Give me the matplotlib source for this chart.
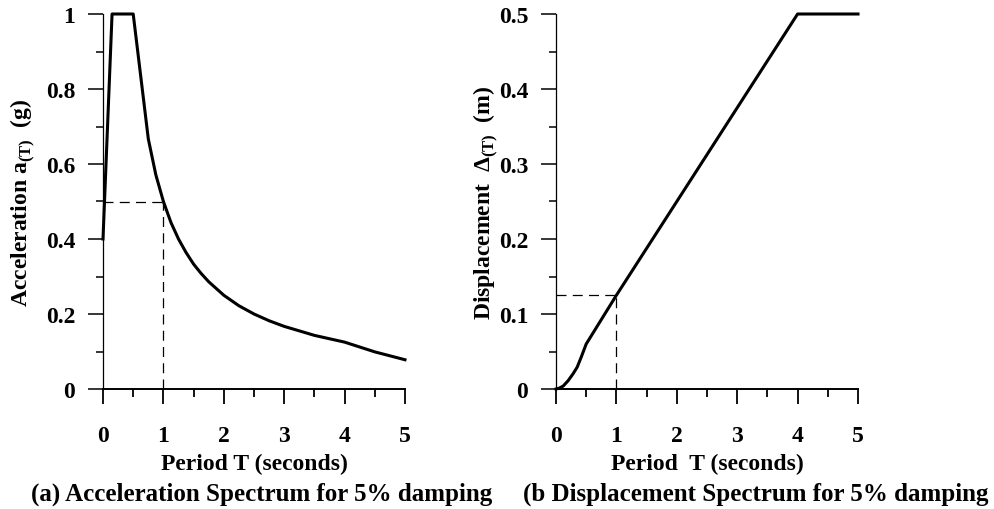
import matplotlib
matplotlib.use('Agg')
import matplotlib.pyplot as plt
from matplotlib.ticker import MultipleLocator

plt.rcParams['font.family'] = 'Liberation Serif'
plt.rcParams['font.weight'] = 'bold'
plt.rcParams['mathtext.fontset'] = 'custom'
plt.rcParams['mathtext.rm'] = 'Liberation Serif'

# acceleration spectrum (g)
acc_T = [0, 0.15, 0.5, 0.75, 0.875, 1.0, 1.125, 1.25, 1.375, 1.5, 1.625, 1.75, 2.0,
         2.25, 2.5, 2.75, 3.0, 3.5, 4.0, 4.5, 5.0]
acc_a = [0.4, 1.0, 1.0, 0.667, 0.571, 0.5, 0.444, 0.4, 0.364, 0.333, 0.308, 0.286, 0.25,
         0.222, 0.2, 0.182, 0.167, 0.143, 0.125, 0.099, 0.078]

# displacement spectrum (m)
disp_T = [0, 0.05, 0.12, 0.2, 0.28, 0.35, 0.42, 0.5, 0.6, 1.0, 2.0, 3.0, 4.0, 5.0]
disp_d = [0, 0.001, 0.004, 0.011, 0.02, 0.029, 0.043, 0.06, 0.073, 0.125, 0.25, 0.375, 0.5, 0.5]

# design point
acc_ref = (1.0, 0.5)
disp_ref = (1.0, 0.125)

fig = plt.figure(figsize=(9.94, 5.10), dpi=100)
ax1 = fig.add_axes([103/994, 120/510, 302/994, 375/510])
ax2 = fig.add_axes([556/994, 120/510, 302/994, 375/510])


def style(ax, ymax, ymajor):
    ax.set_xlim(0, 5)
    ax.set_ylim(0, ymax)
    for s in ['top', 'right']:
        ax.spines[s].set_visible(False)
    ax.spines['left'].set_linewidth(0.9)
    ax.spines['bottom'].set_linewidth(1.4)
    ax.xaxis.set_major_locator(MultipleLocator(1))
    ax.xaxis.set_minor_locator(MultipleLocator(0.5))
    ax.yaxis.set_major_locator(MultipleLocator(ymajor))
    ax.yaxis.set_minor_locator(MultipleLocator(ymajor / 2))
    ax.tick_params(axis='x', which='major', direction='out', length=11, width=1.3,
                   pad=15, labelsize=17)
    ax.tick_params(axis='x', which='minor', direction='out', length=6, width=1.3)
    ax.tick_params(axis='y', which='major', direction='out', length=11, width=1.1,
                   pad=9, labelsize=17)
    ax.tick_params(axis='y', which='minor', direction='out', length=5, width=1.1)
    ax.xaxis.set_label_coords(0.5, -0.17)


style(ax1, 1.0, 0.2)
ax1.set_yticks([0, 0.2, 0.4, 0.6, 0.8, 1.0])
ax1.set_yticklabels(['0', '0.2', '0.4', '0.6', '0.8', '1'])
ax1.plot(acc_T, acc_a, color='black', lw=2.2, clip_on=False, solid_joinstyle='round')
ax1.plot([0, acc_ref[0]], [acc_ref[1], acc_ref[1]], color='black', lw=0.9, dashes=(8, 5))
ax1.plot([acc_ref[0], acc_ref[0]], [0, acc_ref[1]], color='black', lw=0.9, dashes=(8, 5))
ax1.set_xlabel('Period T (seconds)', fontsize=17, fontweight='bold')
ax1.set_ylabel(r'Acceleration a$_{(\mathrm{T})}$  (g)', fontsize=17, fontweight='bold')
ax1.yaxis.set_label_coords(-0.22, 0.5)

style(ax2, 0.5, 0.1)
ax2.set_yticks([0, 0.1, 0.2, 0.3, 0.4, 0.5])
ax2.set_yticklabels(['0', '0.1', '0.2', '0.3', '0.4', '0.5'])
ax2.plot(disp_T, disp_d, color='black', lw=2.2, clip_on=False, solid_joinstyle='round')
ax2.plot([0, disp_ref[0]], [disp_ref[1], disp_ref[1]], color='black', lw=0.9, dashes=(8, 5))
ax2.plot([disp_ref[0], disp_ref[0]], [0, disp_ref[1]], color='black', lw=0.9, dashes=(8, 5))
ax2.set_xlabel('Period  T (seconds)', fontsize=17, fontweight='bold')
ax2.set_ylabel(r'Displacement  $\Delta_{(\mathrm{T})}$  (m)', fontsize=17, fontweight='bold')
ax2.yaxis.set_label_coords(-0.185, 0.5)

fig.text(262/994, 1 - 494/510, '(a) Acceleration Spectrum for 5% damping',
         ha='center', va='center', fontsize=18, fontweight='bold')
fig.text(756/994, 1 - 494/510, '(b Displacement Spectrum for 5% damping',
         ha='center', va='center', fontsize=18, fontweight='bold')

fig.savefig('out.png', dpi=100)
